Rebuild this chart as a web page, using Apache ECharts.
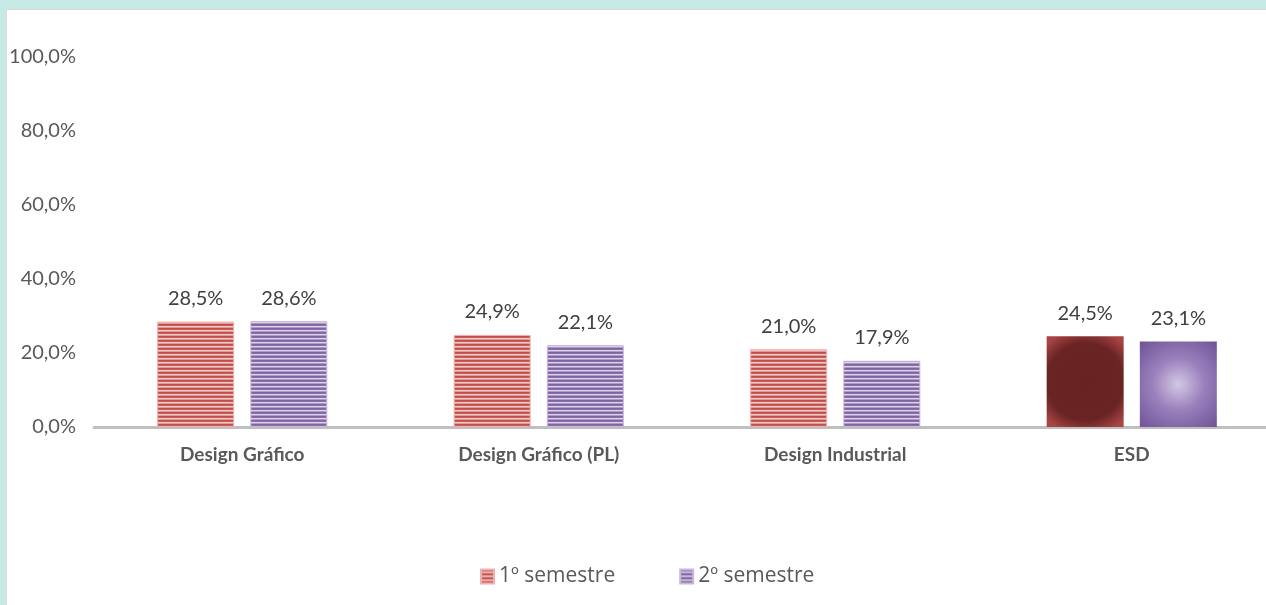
<!DOCTYPE html>
<html>
<head>
<meta charset="utf-8">
<script src="https://cdn.jsdelivr.net/npm/echarts@6/dist/echarts.min.js"></script>
<style>
  html, body { margin: 0; padding: 0; width: 1266px; height: 605px; overflow: hidden; background: #c5eae6; }
  #panel { position: absolute; left: 6px; top: 9px; width: 1300px; height: 620px; background: #ffffff; border-left: 1px solid #d9d9d9; border-top: 1px solid #d9d9d9; }
  #chart { position: absolute; left: 0; top: 0; width: 1300px; height: 605px; }
</style>
</head>
<body>
<div id="panel"></div>
<div id="chart"></div>
<script>
const categories = ['Design Gráfico', 'Design Gráfico (PL)', 'Design Industrial', 'ESD'];
const seriesNames = ['1º semestre', '2º semestre'];
const sem1 = [28.5, 24.9, 21.0, 24.5];
const sem2 = [28.6, 22.1, 17.9, 23.1];
const yTicks = { min: 0, max: 100, interval: 20 };

function stripes(colors) {
  const c = document.createElement('canvas');
  c.width = 4; c.height = colors.length;
  const ctx = c.getContext('2d');
  colors.forEach((col, i) => { ctx.fillStyle = col; ctx.fillRect(0, i, 4, 1); });
  return { image: c, repeat: 'repeat' };
}
const redStripe = stripes(['#c0504d', '#c85c59', '#f2cac8', '#e09a98']);
const purpleStripe = stripes(['#8064a2', '#8a6fab', '#dcd3e8', '#ad9ac6']);

const esdRed = {
  type: 'radial', x: 0.5, y: 0.5, r: 0.7,
  colorStops: [
    { offset: 0, color: '#672222' },
    { offset: 0.72, color: '#6b2424' },
    { offset: 1, color: '#a84444' }
  ]
};
const esdPurple = {
  type: 'radial', x: 0.5, y: 0.5, r: 0.75,
  colorStops: [
    { offset: 0, color: '#d4c8e4' },
    { offset: 0.45, color: '#9a80bc' },
    { offset: 1, color: '#6e5296' }
  ]
};

function fmt(v) { return v.toFixed(1).replace('.', ',') + '%'; }

function buildData(values, esdColor) {
  return values.map((v, i) => {
    if (categories[i] === 'ESD') {
      return { value: v, itemStyle: { color: esdColor, borderWidth: 0 } };
    }
    return v;
  });
}

const chart = echarts.init(document.getElementById('chart'), null, { renderer: 'canvas' });
const font = 'Lato, "Open Sans", sans-serif';
chart.setOption({
  animation: false,
  textStyle: { fontFamily: font },
  grid: { left: 94, width: 1186, top: 57, bottom: 178, containLabel: false },
  legend: {
    left: 475, top: 561,
    icon: 'rect',
    itemWidth: 13, itemHeight: 14, itemGap: 64,
    textStyle: { fontFamily: '"Open Sans", sans-serif', fontSize: 21, color: '#595959' },
    data: seriesNames
  },
  xAxis: {
    type: 'category',
    data: categories,
    axisLine: { lineStyle: { color: '#bfbfbf', width: 3 } },
    axisTick: { show: false },
    axisLabel: { margin: 18, fontSize: 19, fontWeight: 'bold', color: '#595959', fontFamily: font }
  },
  yAxis: {
    type: 'value',
    min: yTicks.min, max: yTicks.max, interval: yTicks.interval,
    axisLine: { show: false },
    axisTick: { show: false },
    splitLine: { show: false },
    axisLabel: { margin: 18, fontSize: 20, color: '#595959', fontFamily: font, formatter: v => fmt(v) }
  },
  series: [
    {
      name: seriesNames[0], type: 'bar', barWidth: 77, barGap: '21%',
      itemStyle: { color: redStripe, borderColor: '#f0b0ae', borderWidth: 1 },
      label: { show: true, position: 'top', distance: 13, fontSize: 20, color: '#404040', fontFamily: font, formatter: p => fmt(p.value) },
      data: buildData(sem1, esdRed)
    },
    {
      name: seriesNames[1], type: 'bar', barWidth: 77, barGap: '21%',
      itemStyle: { color: purpleStripe, borderColor: '#c8b8dc', borderWidth: 1 },
      label: { show: true, position: 'top', distance: 13, fontSize: 20, color: '#404040', fontFamily: font, formatter: p => fmt(p.value) },
      data: buildData(sem2, esdPurple)
    }
  ]
});
</script>
</body>
</html>
